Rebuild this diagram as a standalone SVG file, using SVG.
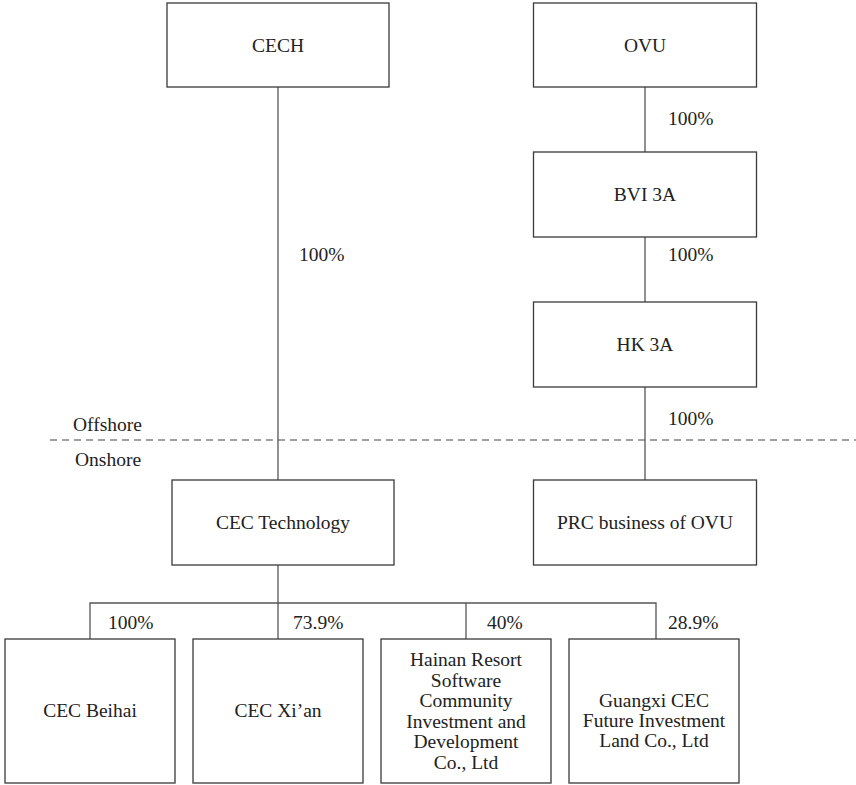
<svg xmlns="http://www.w3.org/2000/svg" width="856" height="785" viewBox="0 0 856 785">
<style>
.box{fill:#fff;stroke:#3a3a3a;stroke-width:1.3}
.ln{fill:none;stroke:#555;stroke-width:1.3}
.dash{fill:none;stroke:#444;stroke-width:1.2;stroke-dasharray:7 5}
text{font-family:"Liberation Serif","Times New Roman",serif;font-size:19.5px;fill:#222}
.c{text-anchor:middle}
</style>
<rect width="856" height="785" fill="#fff"/>
<g id="connectors">
<line class="ln" x1="278" y1="87" x2="278" y2="480"/>
<line class="ln" x1="645" y1="87" x2="645" y2="152"/>
<line class="ln" x1="645" y1="237" x2="645" y2="302"/>
<line class="ln" x1="645" y1="387" x2="645" y2="480"/>
<line class="ln" x1="278" y1="565" x2="278" y2="639"/>
<polyline class="ln" points="90,639 90,603 656,603 656,639"/>
<line class="ln" x1="466" y1="603" x2="466" y2="639"/>
<line class="dash" x1="50" y1="440" x2="856" y2="440"/>
</g>
<g id="labels">
<text x="73" y="431">Offshore</text>
<text x="75" y="466">Onshore</text>
<text x="299" y="261">100%</text>
<text x="668" y="125">100%</text>
<text x="668" y="261">100%</text>
<text x="668" y="425">100%</text>
<text x="108" y="629">100%</text>
<text x="293" y="629">73.9%</text>
<text x="487" y="629">40%</text>
<text x="668" y="629">28.9%</text>
</g>
<g id="cech"><rect class="box" x="167" y="3" width="222" height="84"/><text class="c" x="278" y="51.5">CECH</text></g>
<g id="ovu"><rect class="box" x="533.5" y="3" width="223" height="84"/><text class="c" x="645" y="51.5">OVU</text></g>
<g id="bvi3a"><rect class="box" x="533.5" y="152" width="223" height="85"/><text class="c" x="645" y="201">BVI 3A</text></g>
<g id="hk3a"><rect class="box" x="533.5" y="302" width="223" height="85"/><text class="c" x="645" y="351">HK 3A</text></g>
<g id="cectech"><rect class="box" x="172" y="480" width="222" height="85"/><text class="c" x="283" y="529">CEC Technology</text></g>
<g id="prc"><rect class="box" x="533.5" y="480" width="223" height="85"/><text class="c" x="645" y="529">PRC business of OVU</text></g>
<g id="beihai"><rect class="box" x="5" y="639" width="170" height="144"/><text class="c" x="90" y="717">CEC Beihai</text></g>
<g id="xian"><rect class="box" x="193" y="639" width="170" height="144"/><text class="c" x="278" y="717">CEC Xi’an</text></g>
<g id="hainan"><rect class="box" x="381" y="639" width="170" height="144"/>
<text class="c" x="466" y="666">Hainan Resort</text>
<text class="c" x="466" y="686.5">Software</text>
<text class="c" x="466" y="707">Community</text>
<text class="c" x="466" y="727.5">Investment and</text>
<text class="c" x="466" y="748">Development</text>
<text class="c" x="466" y="768.5">Co., Ltd</text>
</g>
<g id="guangxi"><rect class="box" x="569" y="639" width="170" height="144"/>
<text class="c" x="654" y="707">Guangxi CEC</text>
<text class="c" x="654" y="727">Future Investment</text>
<text class="c" x="654" y="747">Land Co., Ltd</text>
</g>
</svg>
